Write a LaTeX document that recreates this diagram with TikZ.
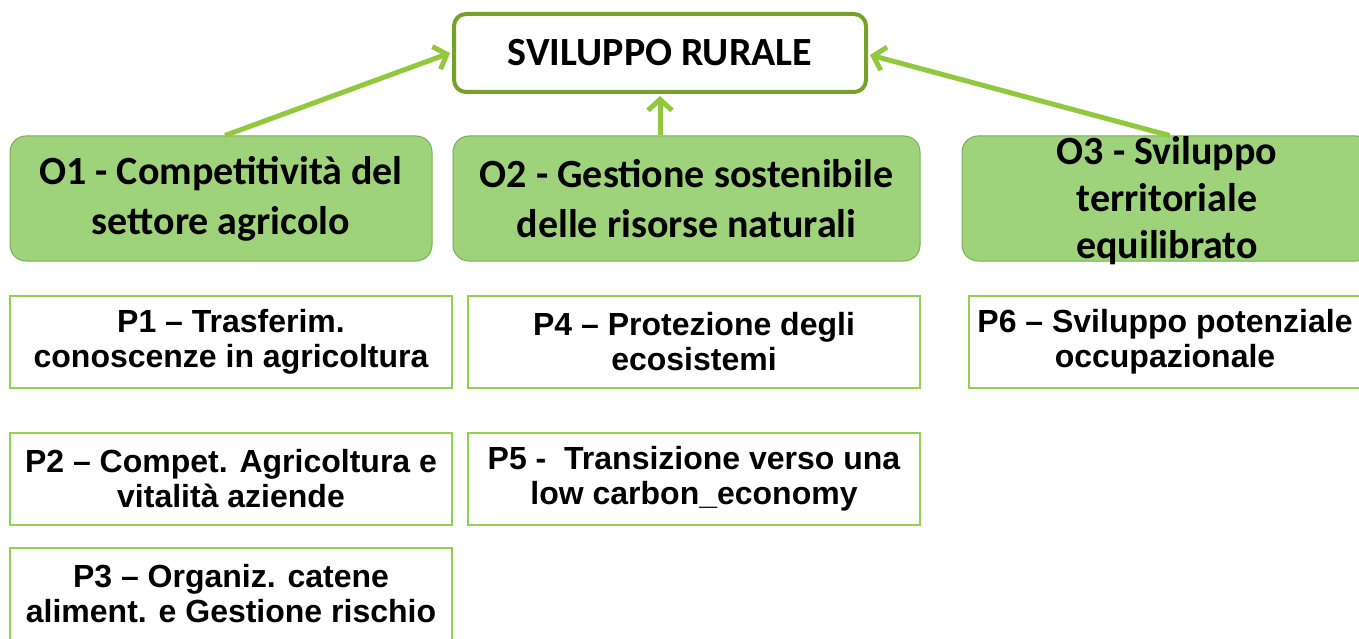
\documentclass[tikz,border=0pt]{standalone}
\usepackage{fontspec}
\usetikzlibrary{arrows.meta,calc}
\newfontfamily\calfont{Carlito}
\newfontfamily\arialfont{Liberation Sans}
\definecolor{ofill}{HTML}{9ED27B}
\definecolor{odraw}{HTML}{7AAE55}
\definecolor{topdraw}{HTML}{76A22C}
\definecolor{arr}{HTML}{92C83E}
\definecolor{pdraw}{HTML}{92D050}
\begin{document}
\begin{tikzpicture}[x=1pt,y=-1pt,
  topbox/.style={draw=topdraw,line width=4pt,fill=white,rounded corners=12pt,minimum width=412pt,minimum height=78pt,inner sep=0pt,font=\calfont\bfseries\fontsize{40}{48}\selectfont},
  obox/.style={draw=odraw,line width=1pt,fill=ofill,rounded corners=16pt,minimum height=125pt,inner sep=0pt,align=center,font=\calfont\bfseries\fontsize{40}{50}\selectfont},
  pbox/.style={draw=pdraw,line width=2pt,fill=white,minimum height=92pt,inner sep=0pt,align=center,font=\arialfont\bfseries\fontsize{32}{35}\selectfont},
  conn/.style={draw=arr,line width=5pt,-{Straight Barb[length=11pt,width=24pt,line width=5pt]}}]
\useasboundingbox (0,0) rectangle (1359,639);
\clip (0,0) rectangle (1359,639);
\node[topbox] (top) at (660,53) {SVILUPPO RURALE};
\node[obox,minimum width=422pt] (o1) at (221,198.5) {O1 - Competitività del\\settore agricolo};
\node[obox,minimum width=467pt] (o2) at (686.5,198.5) {O2 - Gestione sostenibile\\delle risorse naturali};
\node[obox,minimum width=410pt] (o3) at (1167,198.5) {};
\node[font=\calfont\bfseries\fontsize{40}{47}\selectfont,align=center,inner sep=0pt] (o3t) at ($(o3.center)+(0,2)$) {O3 - Sviluppo\\territoriale\\equilibrato};
\node[pbox,minimum width=442pt] (p1) at (231,342) {P1 – Trasferim.\\conoscenze in agricoltura};
\node[pbox,minimum width=442pt] (p2) at (231,479) {P2 – Compet. Agricoltura e\\vitalità aziende};
\node[pbox,minimum width=442pt] (p3) at (231,594) {P3 – Organiz. catene\\aliment. e Gestione rischio};
\node[pbox,minimum width=452pt] (p4) at (694,342) {P4 – Protezione degli\\ecosistemi};
\node[pbox,minimum width=452pt] (p5) at (694,479) {P5 -\ \ Transizione verso una\\low carbon\_economy};
\node[pbox,minimum width=392pt] (p6) at (1165,342) {P6 – Sviluppo potenziale\\occupazionale};
\coordinate (o3a) at ($(o3.north west)+(208,0)$);
\coordinate (o1a) at ($(o1.north)+(4,0)$);
\draw[conn] (o1a) -- ($(top.west)+(-2,0)$);
\draw[conn] (o2.north -| top.south) -- ($(top.south)+(0,2)$);
\draw[conn] (o3a) -- ($(top.east)+(2,2)$);
\end{tikzpicture}
\end{document}
